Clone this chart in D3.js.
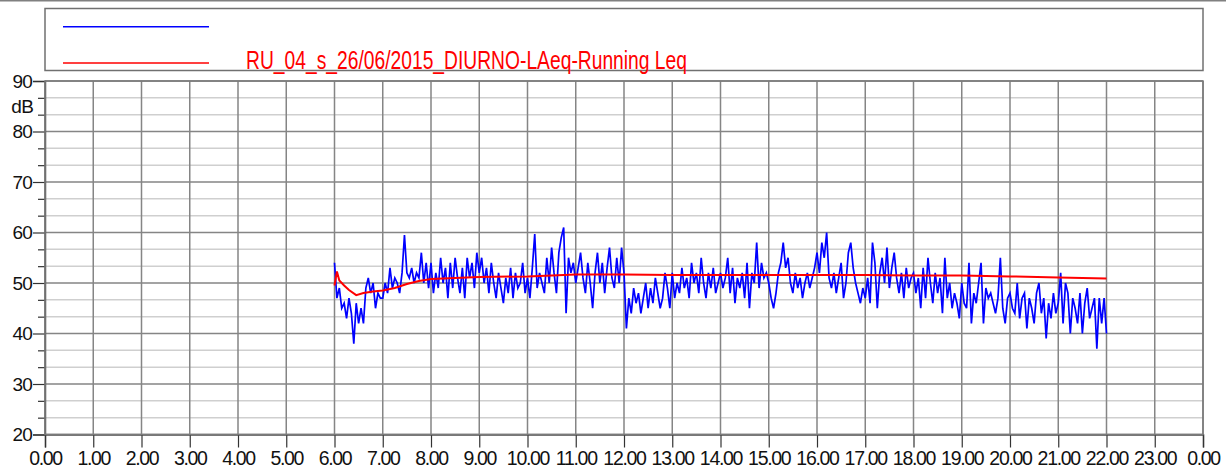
<!DOCTYPE html>
<html><head><meta charset="utf-8">
<script src="https://cdn.jsdelivr.net/npm/d3@7"></script>
<style>html,body{margin:0;padding:0;background:#fff;}svg{display:block;}</style>
</head><body>
<svg id="c" width="1226" height="470"></svg>
<script>
// ---- data ----
const seriesNames = ["", "RU_04_s_26/06/2015_DIURNO-LAeq-Running Leq"];
const xTickValues = [0,1,2,3,4,5,6,7,8,9,10,11,12,13,14,15,16,17,18,19,20,21,22,23,24];
const xTickLabels = ["0.00","1.00","2.00","3.00","4.00","5.00","6.00","7.00","8.00","9.00","10.00","11.00","12.00","13.00","14.00","15.00","16.00","17.00","18.00","19.00","20.00","21.00","22.00","23.00","0.00"];
const yTickValues = [20,30,40,50,60,70,80,90];
const yUnit = "dB";
const laeqStart = 6.0;      // hours
const laeqStep = 0.05;      // 3 minutes
const laeqValues = [
 54,47,49,45,46,43,47,44,38,46,42,45,42,49,51,48,50,45,48,47,
 47,50,48,53,49,51,50,48,52,59.5,52,51,53,50,52,51,56,50,54,49,
 54,48,52,49,55,50,53,47,54,49,55,51,48,53,47,55,51,54,49,56,
 52,55,50,53,48,54,50,47,52,49,46,51,48,53,47,52,49,50,54,48,
 51,47,53,59.7,49,52,50,48,55,50,57,52,48,56,59,61,44,55,52,54,
 50,53,56,51,48,54,50,45,52,56,50,54,48,53,57,51,49,55,50,57,
 52,41,47,44,49,46,48,44,47,50,45,49,46,51,48,45,47,52,49,45,
 52,47,50,48,53,49,51,47,54,50,52,48,55,50,47,52,49,53,48,50,
 52,49,51,55,48,53,46,51,49,52,47,54,45,52,50,58,49,54,51,52,
 50,47,45,48,52,54,58,53,55,50,48,52,49,51,47,50,52,49,51,53,
 56,52,58,55,60,51,49,52,48,51,54,47,50,56,58,53,50,48,46,49,
 47,51,46,58,54,45,52,55,50,57,49,53,56,51,48,52,47,53,49,51,
 52,48,51,45,53,47,55,50,46,52,48,51,44,55,47,50,45,48,46,43,
 50,46,45,54,42,48,46,50,54,42,49,47,48,46,44,47,55,45,42,47,
 48,45,44,50,43,47,48,41,47,45,42,48,50,44,47,39,46,43,48,44,
 46,52,42,50,48,40,47,45,42,48,40,46,49,43,45,47,37,47,42,47,
 40
];
const runTimes  = [6.00,6.05,6.10,6.20,6.30,6.45,6.60,6.80,7.00,7.25,7.50,7.75,8.00,8.50,9.00,10.0,10.5,11.0,12.0,13.0,14.0,15.0,16.0,17.0,18.0,19.0,20.0,21.0,22.0];
const runValues = [49.5,52.3,50.5,49.5,48.6,47.6,48.0,48.3,48.5,49.0,49.8,50.4,50.8,51.0,51.2,51.3,51.5,51.7,51.7,51.6,51.6,51.6,51.6,51.6,51.5,51.5,51.3,51.1,50.9];
const colors = ["#0000ff", "#ff0000"];

// ---- drawing ----
const svg = d3.select("#c");
const L = 45, R = 1203, T = 81, B = 434.5;
const x = d3.scaleLinear().domain([0,24]).range([L,R]);
const y = d3.scaleLinear().domain([20,90]).range([B,T]);
const font = "'Liberation Sans', Arial, sans-serif";

// outer top line
svg.append("line").attr("x1",0).attr("x2",1226).attr("y1",0.75).attr("y2",0.75).attr("stroke","#808080").attr("stroke-width",1.5);

// legend
const lg = svg.append("g");
lg.append("rect").attr("x",45).attr("y",8.5).attr("width",1158).attr("height",62)
  .attr("fill","none").attr("stroke","#707070").attr("stroke-width",1.5);
[26.7, 63].forEach((ly,i)=>{
  lg.append("line").attr("x1",63).attr("x2",209).attr("y1",ly).attr("y2",ly)
    .attr("stroke",colors[i]).attr("stroke-width",1.5);
});
lg.append("text").attr("x",246).attr("y",68.5).attr("fill",colors[1])
  .attr("font-family",font).attr("font-size",25.5).attr("textLength",441).attr("lengthAdjust","spacingAndGlyphs")
  .text(seriesNames[1]);

// minor horizontal grid (every 10/3 dB)
const minorY = [];
for (let i=0;i<yTickValues.length-1;i++){ const v=yTickValues[i]; minorY.push(v+10/3, v+20/3); }
svg.append("g").selectAll("line").data(minorY).join("line")
  .attr("x1",L).attr("x2",R).attr("y1",d=>y(d)).attr("y2",d=>y(d))
  .attr("stroke","#cfcfcf").attr("stroke-width",1.5);
// major horizontal grid
svg.append("g").selectAll("line").data(yTickValues).join("line")
  .attr("x1",L).attr("x2",R).attr("y1",d=>y(d)).attr("y2",d=>y(d))
  .attr("stroke","#858585").attr("stroke-width",1.5);
// vertical grid
svg.append("g").selectAll("line").data(xTickValues).join("line")
  .attr("x1",d=>x(d)).attr("x2",d=>x(d)).attr("y1",T).attr("y2",B)
  .attr("stroke","#858585").attr("stroke-width",1.5);

// y axis
const yAxis = d3.axisLeft(y).tickValues(yTickValues).tickSize(12).tickPadding(1).tickFormat(d3.format("d"));
const ya = svg.append("g").attr("transform",`translate(${L},0)`).call(yAxis);
ya.select(".domain").attr("stroke","#555").attr("stroke-width",1.5);
ya.selectAll(".tick line").attr("stroke","#333").attr("stroke-width",1.2);
ya.selectAll(".tick text").attr("font-family",font).attr("font-size",19).attr("fill","#111").attr("letter-spacing","-0.8");
const yMinor = d3.axisLeft(y).tickValues(minorY).tickSize(7).tickFormat("");
const ym = svg.append("g").attr("transform",`translate(${L},0)`).call(yMinor);
ym.select(".domain").remove();
ym.selectAll(".tick line").attr("stroke","#333").attr("stroke-width",1.2);
svg.append("text").attr("x",33).attr("y",113).attr("text-anchor","end")
  .attr("font-family",font).attr("font-size",19).attr("fill","#111").attr("letter-spacing","-0.8").text(yUnit);

// x axis
const xAxis = d3.axisBottom(x).tickValues(xTickValues).tickSize(13).tickPadding(4)
  .tickFormat((d,i)=>xTickLabels[i]);
const xa = svg.append("g").attr("transform",`translate(0,${B})`).call(xAxis);
xa.select(".domain").attr("stroke","#555").attr("stroke-width",1.5);
xa.selectAll(".tick line").attr("stroke","#333").attr("stroke-width",1.2);
xa.selectAll(".tick text").attr("font-family",font).attr("font-size",19.5).attr("fill","#111").attr("letter-spacing","-1.3");

// plot frame
svg.append("rect").attr("x",L).attr("y",T).attr("width",R-L).attr("height",B-T)
  .attr("fill","none").attr("stroke","#7a7a7a").attr("stroke-width",1.5);

// series
const blue = laeqValues.map((v,i)=>[laeqStart+i*laeqStep, v]);
const red = runTimes.map((t,i)=>[t, runValues[i]]);
const line = d3.line().x(d=>x(d[0])).y(d=>y(d[1]));
svg.append("path").datum(blue).attr("d",line).attr("fill","none").attr("stroke",colors[0]).attr("stroke-width",1.7);
svg.append("path").datum(red).attr("d",line).attr("fill","none").attr("stroke",colors[1]).attr("stroke-width",2);
</script>
</body></html>
